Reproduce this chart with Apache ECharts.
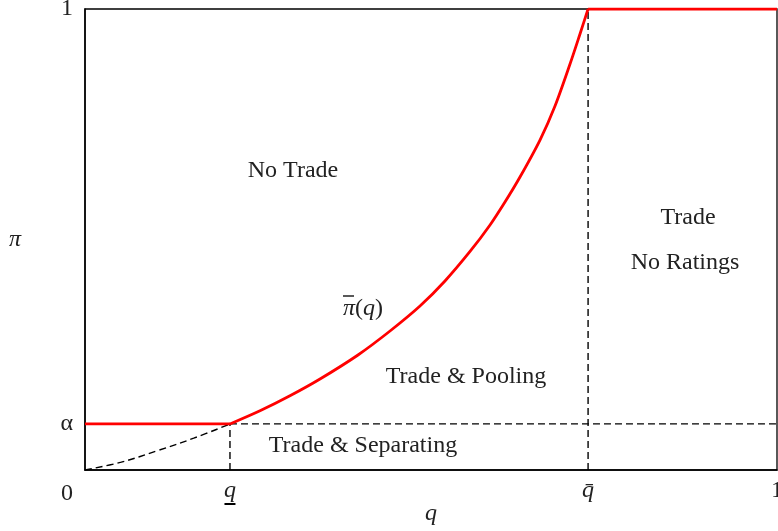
<!DOCTYPE html>
<html>
<head>
<meta charset="utf-8">
<script src="https://cdn.jsdelivr.net/npm/echarts@6/dist/echarts.min.js"></script>
<style>html,body{margin:0;padding:0;background:#fff;}#c{width:778px;height:531px;}</style>
</head>
<body>
<div id="c"></div>
<script>
// ---- data ----
const qLow = 0.2095;   // q underline
const qBar = 0.727;    // q bar
const alpha = 0.1;     // alpha
const curveQ  = [0.2095, 0.2529, 0.2962, 0.3396, 0.3945, 0.4408, 0.4841, 0.5202, 0.5564, 0.5853, 0.6069, 0.6286, 0.6575, 0.6792, 0.7009, 0.7153, 0.727];
const curvePi = [0.0998, 0.1284, 0.1610, 0.1974, 0.2495, 0.3015, 0.3557, 0.4100, 0.4740, 0.5315, 0.5813, 0.6356, 0.7158, 0.7896, 0.8807, 0.9458, 1.0];
const dashQ  = [0, 0.0524, 0.1048, 0.1571, 0.2095];
const dashPi = [0, 0.017, 0.042, 0.069, 0.0998];
const xTickValues = [qLow, qBar, 1];
const xTickLabels = ['qlow', 'qbar', '1'];
const yTickValues = [alpha, 1];
const yTickLabels = ['\u03b1', '1'];

const FONT = '"Liberation Serif", "DejaVu Serif", serif';
const FS = 24;
const zip = (a, b) => a.map((v, i) => [v, b[i]]);
const dashStyle = { color: '#000', width: 1.4, type: [7, 4] };
const redStyle = { color: '#ff0000', width: 2.8 };
const txt = (s, x, y, italic) => ({ type: 'text', x: x, y: y, style: { text: s, font: (italic ? 'italic ' : '') + FS + 'px ' + FONT, fill: '#222', textAlign: 'center', textVerticalAlign: 'middle' } });

const chart = echarts.init(document.getElementById('c'), null, { renderer: 'canvas' });
chart.setOption({
  animation: false,
  backgroundColor: '#fff',
  grid: { left: 85, right: 1, top: 9, bottom: 61, show: true, borderColor: '#000', borderWidth: 1.3, containLabel: false, outerBoundsMode: 'none' },
  xAxis: {
    type: 'value', min: 0, max: 1,
    splitLine: { show: false },
    axisTick: { show: false },
    axisLine: { show: true, onZero: false, lineStyle: { color: '#000', width: 1.5 } },
    axisLabel: {
      customValues: xTickValues,
      margin: 10,
      fontFamily: FONT, fontSize: FS, color: '#222',
      formatter: function (v) {
        const i = xTickValues.indexOf(v);
        const l = xTickLabels[i];
        if (l === 'qlow') return '{i|q}\n{u|}';
        if (l === 'qbar') return '{i|q\u0304}';
        return '{n|' + l + '}';
      },
      rich: {
        i: { fontFamily: FONT, fontSize: FS, fontStyle: 'italic', color: '#222', lineHeight: 22 },
        u: { width: 11, height: 2, backgroundColor: '#000', lineHeight: 4 },
        n: { fontFamily: FONT, fontSize: FS, color: '#222', lineHeight: 22 }
      }
    }
  },
  yAxis: {
    type: 'value', min: 0, max: 1,
    splitLine: { show: false },
    axisTick: { show: false },
    axisLine: { show: true, onZero: false, lineStyle: { color: '#000', width: 1.5 } },
    axisLabel: {
      customValues: yTickValues,
      margin: 12,
      fontFamily: FONT, fontSize: FS, color: '#222',
      formatter: function (v) {
        return yTickLabels[yTickValues.indexOf(v)];
      }
    }
  },
  graphic: [
    txt('0', 67, 494, false),
    txt('\u03c0', 15, 240, true),
    txt('q', 431, 514, true),
    txt('No Trade', 293, 171, false),
    txt('Trade', 688, 218, false),
    txt('No Ratings', 685, 263, false),
    txt('Trade & Pooling', 466, 377, false),
    txt('Trade & Separating', 363, 446, false),
    { type: 'text', x: 343, y: 308, style: {
        text: '{b|}\n{i|\u03c0}{n|(}{i|q}{n|)}',
        textAlign: 'left', textVerticalAlign: 'middle',
        rich: {
          b: { width: 9, height: 1.5, backgroundColor: '#222', lineHeight: 2, padding: [0, 0, 0, 2] },
          i: { fontFamily: FONT, fontSize: FS, fontStyle: 'italic', fill: '#222', color: '#222', lineHeight: 24 },
          n: { fontFamily: FONT, fontSize: FS, fill: '#222', color: '#222', lineHeight: 24 }
        }
    } }
  ],
  series: [
    { type: 'line', data: zip(dashQ, dashPi), smooth: 0.4, symbol: 'none', lineStyle: dashStyle, z: 2 },
    { type: 'line', data: [[qLow, alpha], [1, alpha]], symbol: 'none', lineStyle: dashStyle, z: 2 },
    { type: 'line', data: [[qLow, 0], [qLow, alpha]], symbol: 'none', lineStyle: dashStyle, z: 2 },
    { type: 'line', data: [[qBar, 0], [qBar, 1]], symbol: 'none', lineStyle: dashStyle, z: 2 },
    { type: 'line', data: [[0, alpha], [qLow, alpha]], symbol: 'none', lineStyle: redStyle, z: 5 },
    { type: 'line', data: zip(curveQ, curvePi), smooth: 0.3, symbol: 'none', lineStyle: redStyle, z: 5 },
    { type: 'line', data: [[qBar, 1], [1, 1]], symbol: 'none', lineStyle: redStyle, z: 5 }
  ]
});
</script>
</body>
</html>
